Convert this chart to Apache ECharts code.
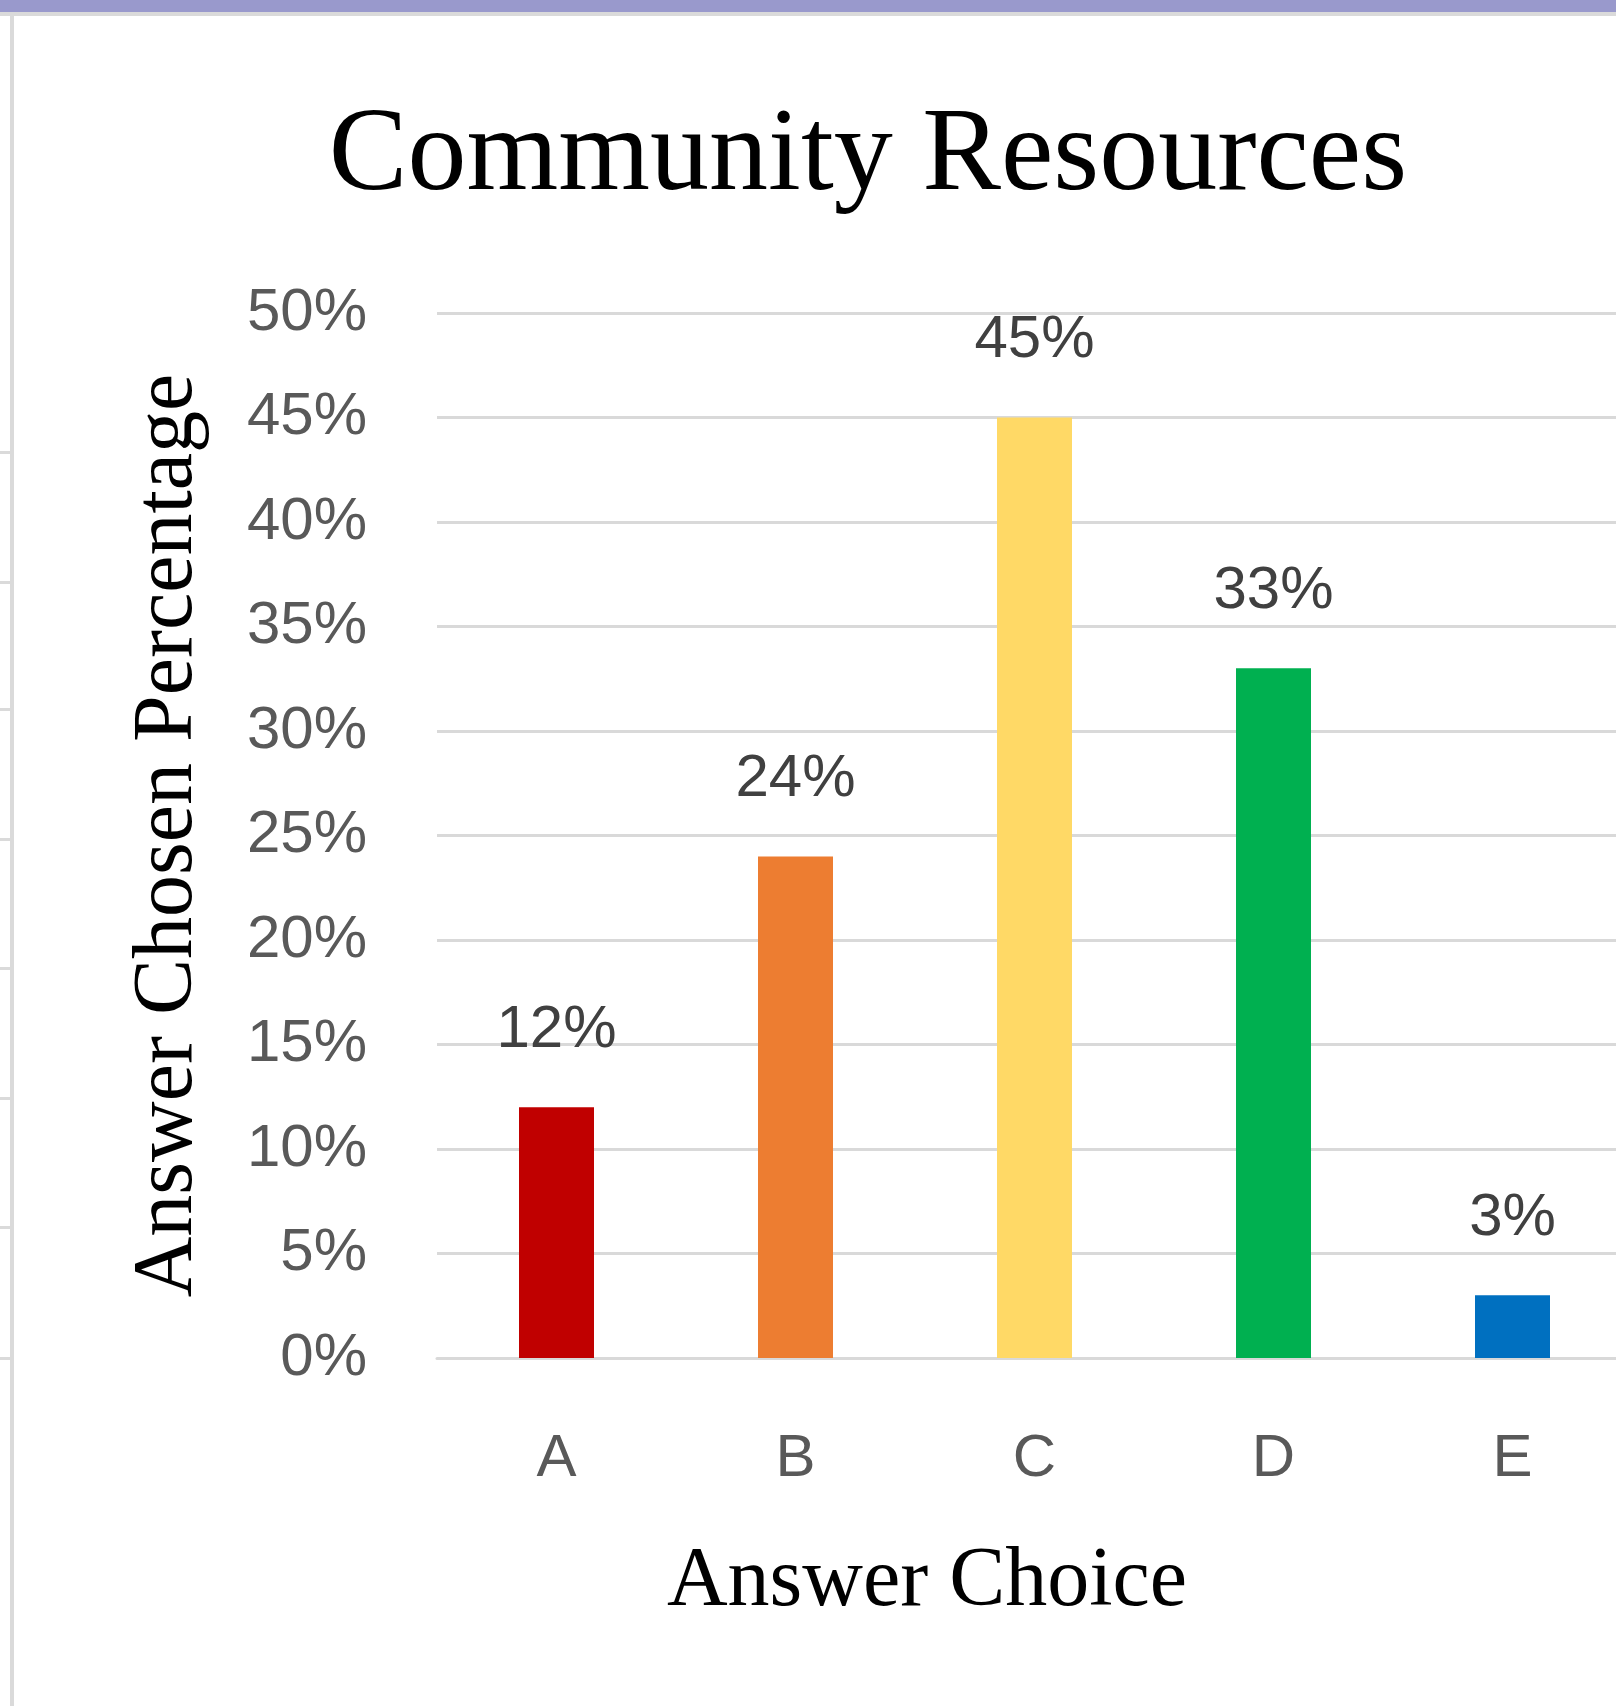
<!DOCTYPE html>
<html>
<head>
<meta charset="utf-8">
<script src="https://cdn.jsdelivr.net/npm/echarts@6/dist/echarts.min.js"></script>
<style>
html,body{margin:0;padding:0;background:#fff;overflow:hidden;}
#chart{width:1616px;height:1706px;}
</style>
</head>
<body>
<div id="chart"></div>
<script>
// ---- data ----
const categories = ['A', 'B', 'C', 'D', 'E'];
const values = [12, 24, 45, 33, 3];
const barColors = ['#C00000', '#ED7D31', '#FFD966', '#00B050', '#0070C0'];
const titleText = 'Community Resources';
const xAxisTitle = 'Answer Choice';
const yAxisTitle = 'Answer Chosen Percentage';
const yMin = 0, yMax = 50, yStep = 5;

const chart = echarts.init(document.getElementById('chart'), null, {renderer: 'canvas'});

const sans = '"Liberation Sans", Arial, sans-serif';
const serif = '"Liberation Serif", "Times New Roman", serif';

const option = {
  backgroundColor: '#ffffff',
  animation: false,
  title: {
    text: titleText,
    left: 863,
    top: 94,
    textAlign: 'center',
    textStyle: {fontFamily: serif, fontSize: 118, fontWeight: 'normal', color: '#000000'}
  },
  grid: {left: 437, top: 313, bottom: 348, width: 1195, containLabel: false, outerBoundsMode: 'none'},
  xAxis: {
    type: 'category',
    data: categories,
    name: xAxisTitle,
    nameLocation: 'middle',
    nameGap: 183,
    nameTextStyle: {fontFamily: serif, fontSize: 84, color: '#000000', padding: [0, 215, 0, 0]},
    axisLine: {show: true, lineStyle: {color: '#D9D9D9', width: 3}},
    axisTick: {show: false},
    axisLabel: {fontFamily: sans, fontSize: 60, color: '#595959', margin: 71}
  },
  yAxis: {
    type: 'value',
    min: yMin,
    max: yMax,
    interval: yStep,
    name: yAxisTitle,
    nameLocation: 'middle',
    nameGap: 226,
    nameRotate: 90,
    nameTextStyle: {fontFamily: serif, fontSize: 84, color: '#000000'},
    axisLine: {show: false},
    axisTick: {show: false},
    axisLabel: {fontFamily: sans, fontSize: 60, color: '#595959', margin: 70, formatter: '{value}%', padding: [6, 0, 0, 0]},
    splitLine: {show: true, lineStyle: {color: '#D9D9D9', width: 3}}
  },
  series: [{
    type: 'bar',
    data: values.map((v, i) => ({value: v, itemStyle: {color: barColors[i]}})),
    barWidth: 75,
    label: {
      show: true,
      position: 'top',
      distance: 47,
      formatter: '{c}%',
      fontFamily: sans,
      fontSize: 60,
      color: '#404040'
    }
  }],
  graphic: [
    {type: 'rect', shape: {x: 0, y: 0, width: 1616, height: 12}, style: {fill: '#9999CC'}, silent: true},
    {type: 'rect', shape: {x: 0, y: 12, width: 1616, height: 4}, style: {fill: '#DADADA'}, silent: true},
    {type: 'rect', shape: {x: 10, y: 12, width: 4, height: 1694}, style: {fill: '#DADADA'}, silent: true},
    {type: 'rect', shape: {x: 0, y: 451, width: 10, height: 3}, style: {fill: '#DADADA'}, silent: true},
    {type: 'rect', shape: {x: 0, y: 581, width: 10, height: 3}, style: {fill: '#DADADA'}, silent: true},
    {type: 'rect', shape: {x: 0, y: 708, width: 10, height: 3}, style: {fill: '#DADADA'}, silent: true},
    {type: 'rect', shape: {x: 0, y: 838, width: 10, height: 3}, style: {fill: '#DADADA'}, silent: true},
    {type: 'rect', shape: {x: 0, y: 967, width: 10, height: 3}, style: {fill: '#DADADA'}, silent: true},
    {type: 'rect', shape: {x: 0, y: 1097, width: 10, height: 3}, style: {fill: '#DADADA'}, silent: true},
    {type: 'rect', shape: {x: 0, y: 1226, width: 10, height: 3}, style: {fill: '#DADADA'}, silent: true},
    {type: 'rect', shape: {x: 0, y: 1357, width: 10, height: 3}, style: {fill: '#DADADA'}, silent: true}
  ]
};
chart.setOption(option);
</script>
</body>
</html>
